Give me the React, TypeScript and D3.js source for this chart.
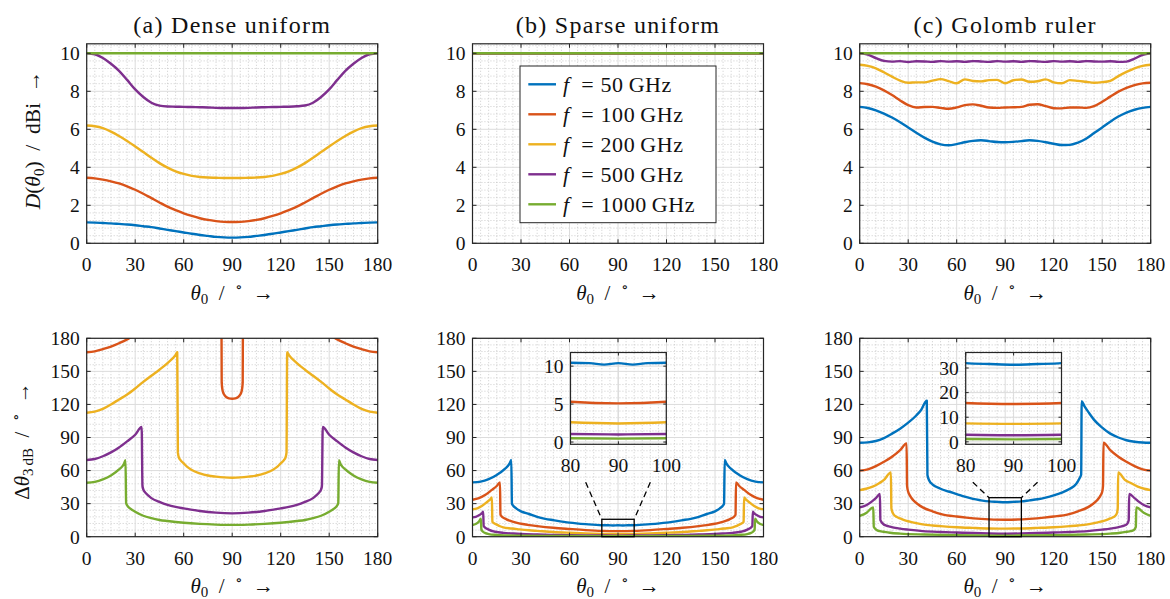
import React from "react";
import * as d3 from "d3";

type Pt = [number, number];

// ---------- categories / labels ----------
const COLORS = ["#0072BD", "#D95319", "#EDB120", "#7E2F8E", "#77AC30"];
const FREQ_LABELS = ["50", "100", "200", "500", "1000"];
const PANEL_TITLES = ["(a) Dense uniform", "(b) Sparse uniform", "(c) Golomb ruler"];
const THETA_TICKS = [0, 30, 60, 90, 120, 150, 180];
const D_TICKS = [0, 2, 4, 6, 8, 10];
const BW_TICKS = [0, 30, 60, 90, 120, 150, 180];
const INSET_X_TICKS = [80, 90, 100];
const INSET_B_TICKS = [0, 5, 10];
const INSET_C_TICKS = [0, 10, 20, 30];
const ZOOM_X = [80, 100];
const ZOOM_TOP_B = 15.8;
const ZOOM_TOP_C = 35.4;
const CONNECT_FROM: Pt[] = [[70, 49.4], [110, 49.4]];

// ---------- theta grids ----------
const THETA5 = [0, 5, 10, 15, 20, 25, 30, 35, 40, 45, 50, 55, 60, 65, 70, 75, 80, 85, 90, 95, 100, 105, 110, 115, 120, 125, 130, 135, 140, 145, 150, 155, 160, 165, 170, 175, 180];
const THETA_COARSE = [0, 30, 60, 90, 120, 150, 180];

// ---------- (a) dense uniform, directivity ----------
const denseD50 = [1.10, 1.09, 1.07, 1.05, 1.02, 0.99, 0.95, 0.90, 0.85, 0.78, 0.71, 0.64, 0.57, 0.50, 0.44, 0.39, 0.34, 0.31, 0.30, 0.31, 0.34, 0.39, 0.44, 0.50, 0.57, 0.64, 0.71, 0.78, 0.85, 0.90, 0.95, 0.99, 1.02, 1.05, 1.07, 1.09, 1.10];
const denseD100 = [3.45, 3.42, 3.35, 3.26, 3.15, 3.00, 2.82, 2.61, 2.38, 2.15, 1.93, 1.75, 1.58, 1.44, 1.32, 1.23, 1.17, 1.13, 1.12, 1.13, 1.17, 1.23, 1.32, 1.44, 1.58, 1.75, 1.93, 2.15, 2.38, 2.61, 2.82, 3.00, 3.15, 3.26, 3.35, 3.42, 3.45];
const denseD200 = [6.20, 6.16, 6.06, 5.88, 5.65, 5.39, 5.10, 4.80, 4.50, 4.22, 3.98, 3.79, 3.65, 3.55, 3.49, 3.46, 3.45, 3.44, 3.44, 3.44, 3.45, 3.46, 3.49, 3.55, 3.65, 3.79, 3.98, 4.22, 4.50, 4.80, 5.10, 5.39, 5.65, 5.88, 6.06, 6.16, 6.20];
const denseD500 = [10.0, 9.95, 9.75, 9.45, 9.08, 8.60, 8.10, 7.70, 7.40, 7.25, 7.20, 7.19, 7.18, 7.17, 7.16, 7.15, 7.13, 7.12, 7.12, 7.12, 7.13, 7.15, 7.16, 7.17, 7.18, 7.19, 7.21, 7.25, 7.40, 7.70, 8.10, 8.60, 9.08, 9.45, 9.75, 9.95, 10.0];
const denseD1000 = [10, 10, 10, 10, 10, 10, 10];

// ---------- (b) sparse uniform, directivity ----------
const sparseD50 = [10, 10, 10, 10, 10, 10, 10];
const sparseD100 = [10, 10, 10, 10, 10, 10, 10];
const sparseD200 = [10, 10, 10, 10, 10, 10, 10];
const sparseD500 = [10, 10, 10, 10, 10, 10, 10];
const sparseD1000 = [10, 10, 10, 10, 10, 10, 10];

// ---------- (c) Golomb ruler, directivity ----------
const golombD50 = [7.18, 7.12, 7.00, 6.83, 6.62, 6.37, 6.09, 5.82, 5.56, 5.35, 5.21, 5.16, 5.22, 5.32, 5.39, 5.42, 5.38, 5.33, 5.32, 5.34, 5.38, 5.42, 5.39, 5.32, 5.24, 5.17, 5.18, 5.30, 5.50, 5.80, 6.10, 6.40, 6.67, 6.88, 7.03, 7.13, 7.18];
const golombD100 = [8.43, 8.37, 8.24, 8.05, 7.80, 7.52, 7.27, 7.15, 7.17, 7.18, 7.13, 7.08, 7.15, 7.27, 7.31, 7.24, 7.15, 7.13, 7.15, 7.16, 7.18, 7.29, 7.32, 7.22, 7.11, 7.10, 7.15, 7.15, 7.13, 7.22, 7.45, 7.72, 7.98, 8.18, 8.33, 8.42, 8.45];
const golombD200 = [9.40, 9.34, 9.21, 9.00, 8.77, 8.56, 8.45, 8.47, 8.47, 8.56, 8.64, 8.54, 8.42, 8.63, 8.54, 8.52, 8.59, 8.60, 8.42, 8.58, 8.62, 8.50, 8.53, 8.63, 8.47, 8.42, 8.59, 8.55, 8.50, 8.45, 8.48, 8.55, 8.80, 9.02, 9.21, 9.34, 9.40];
const golombD500 = [10.0, 9.93, 9.75, 9.60, 9.56, 9.59, 9.54, 9.58, 9.57, 9.55, 9.59, 9.56, 9.58, 9.55, 9.59, 9.57, 9.55, 9.59, 9.56, 9.58, 9.55, 9.59, 9.57, 9.55, 9.59, 9.56, 9.58, 9.55, 9.59, 9.57, 9.56, 9.58, 9.55, 9.56, 9.72, 9.92, 10.0];
const golombD1000 = [10, 10, 10, 10, 10, 10, 10];

// ---------- (a) dense uniform, 3 dB beamwidth (NaN = off-scale gap) ----------
const denseBw100: Pt[] = [[0, 167.3], [5, 168.2], [10, 170.2], [15, 172.5], [20, 175.5], [25, 179], [27, 180.8], [50, NaN], [83.4, 181], [83.5, 140], [84, 133], [85, 129], [86.5, 126.5], [88, 125.5], [90, 125.2], [92, 125.5], [93.5, 126.5], [95, 129], [96, 133], [96.5, 140], [96.6, 181], [130, NaN], [153, 180.8], [155, 179], [160, 175.5], [165, 172.5], [170, 170.2], [175, 168.2], [180, 167.3]];
const denseBw200: Pt[] = [[0, 112.5], [5, 113.5], [10, 116], [15, 120], [20, 124.5], [25, 129], [30, 134.5], [35, 140.5], [40, 146], [45, 151.5], [50, 157.5], [55, 165], [56, 167.3], [56.4, 76.5], [57, 72], [58, 69.5], [60, 66.5], [62, 63.5], [65, 60.5], [70, 57.5], [75, 55.5], [80, 54.5], [85, 53.8], [90, 53.5], [95, 53.8], [100, 54.5], [105, 55.5], [110, 57.5], [115, 60.5], [118, 63.5], [120, 66.5], [122, 69.5], [123, 72], [123.6, 76.5], [124, 167.3], [125, 165], [130, 157.5], [135, 151.5], [140, 146], [145, 140.5], [150, 134.5], [155, 129], [160, 124.5], [165, 120], [170, 116], [175, 113.5], [180, 112.5]];
const denseBw500: Pt[] = [[0, 69.6], [5, 70.5], [10, 73], [15, 76.5], [20, 81], [25, 86.5], [30, 92.5], [34, 99.5], [34.5, 46], [35, 43], [36, 40.5], [38, 37.5], [40, 35], [45, 31.5], [50, 28.8], [55, 27], [60, 25.7], [70, 23.3], [80, 21.8], [90, 21.2], [100, 21.8], [110, 23.3], [120, 25.7], [125, 27], [130, 28.8], [135, 31.5], [140, 35], [142, 37.5], [144, 40.5], [145, 43], [145.5, 46], [146, 99.5], [150, 92.5], [155, 86.5], [160, 81], [165, 76.5], [170, 73], [175, 70.5], [180, 69.6]];
const denseBw1000: Pt[] = [[0, 49], [5, 49.8], [10, 52], [15, 55.5], [20, 61], [23, 66], [24, 69.4], [24.4, 30.5], [25, 28.5], [27, 25.5], [30, 22.7], [35, 19], [40, 16.8], [45, 15.2], [50, 14.2], [60, 12.6], [70, 11.6], [80, 11], [90, 10.7], [100, 11], [110, 11.6], [120, 12.6], [130, 14.2], [135, 15.2], [140, 16.8], [145, 19], [150, 22.7], [153, 25.5], [155, 28.5], [155.6, 30.5], [156, 69.4], [157, 66], [160, 61], [165, 55.5], [170, 52], [175, 49.8], [180, 49]];

// ---------- (b) sparse uniform, 3 dB beamwidth ----------
const sparseBw50: Pt[] = [[0, 49.3], [5, 50], [10, 52.2], [15, 56], [20, 61.5], [23, 66.5], [24, 69.6], [24.4, 30], [25, 28.5], [27, 25.7], [30, 23], [35, 20.6], [40, 18], [45, 16.2], [50, 15], [60, 12.8], [70, 11.4], [80, 10.45], [84, 10.4], [87, 10.2], [90, 10.4], [93, 10.2], [96, 10.4], [100, 10.45], [110, 11.4], [120, 12.8], [130, 15], [135, 16.2], [140, 18], [145, 20.6], [150, 23], [153, 25.7], [155, 28.5], [155.6, 30], [156, 69.6], [157, 66.5], [160, 61.5], [165, 56], [170, 52.2], [175, 50], [180, 49.3]];
const sparseBw100: Pt[] = [[0, 33.5], [4, 35], [8, 38], [12, 42.5], [15, 46], [17, 49.3], [17.3, 20], [18, 18.5], [19, 17.3], [21, 15.8], [23, 14.6], [27, 12.8], [31, 11.5], [35, 10.5], [40, 9.6], [50, 8.1], [60, 7.0], [70, 6.0], [80, 5.3], [90, 5.1], [100, 5.3], [110, 6.0], [120, 7.0], [130, 8.1], [140, 9.6], [145, 10.5], [149, 11.5], [153, 12.8], [157, 14.6], [159, 15.8], [161, 17.3], [162, 18.5], [162.7, 20], [163, 49.3], [165, 46], [168, 42.5], [172, 38], [176, 35], [180, 33.5]];
const sparseBw200: Pt[] = [[0, 24.8], [3, 25.8], [6, 28], [9, 31.5], [11, 34], [12, 35.7], [12.3, 13.6], [13, 12.5], [15, 11], [17, 9.5], [19, 8.5], [24, 7.4], [29, 6.6], [35, 5.8], [40, 5.3], [50, 4.3], [60, 3.6], [70, 3.0], [80, 2.6], [90, 2.45], [100, 2.6], [110, 3.0], [120, 3.6], [130, 4.3], [140, 5.3], [145, 5.8], [151, 6.6], [156, 7.4], [161, 8.5], [163, 9.5], [165, 11], [167, 12.5], [167.7, 13.6], [168, 35.7], [169, 34], [171, 31.5], [174, 28], [177, 25.8], [180, 24.8]];
const sparseBw500: Pt[] = [[0, 17.5], [2, 18], [4, 19.5], [6, 21.5], [6.6, 22.7], [6.9, 9.7], [8, 8], [10, 6.5], [13, 4.8], [16, 4], [19, 3.5], [25, 2.9], [30, 2.5], [40, 2], [50, 1.6], [60, 1.35], [70, 1.15], [80, 1.05], [90, 1.0], [100, 1.05], [110, 1.15], [120, 1.35], [130, 1.6], [140, 2], [150, 2.5], [155, 2.9], [161, 3.5], [164, 4], [167, 4.8], [170, 6.5], [172, 8], [173.1, 9.7], [173.4, 22.7], [174, 21.5], [176, 19.5], [178, 18], [180, 17.5]];
const sparseBw1000: Pt[] = [[0, 10.6], [2, 11.5], [4, 13.8], [5.2, 16.3], [5.5, 6.5], [6.5, 4.5], [8, 3.2], [10, 2.4], [15, 1.6], [20, 1.2], [30, 0.9], [45, 0.7], [60, 0.6], [90, 0.45], [120, 0.6], [135, 0.7], [150, 0.9], [160, 1.2], [165, 1.6], [170, 2.4], [172, 3.2], [173.5, 4.5], [174.5, 6.5], [174.8, 16.3], [176, 13.8], [178, 11.5], [180, 10.6]];

// ---------- (c) Golomb ruler, 3 dB beamwidth ----------
const golombBw50: Pt[] = [[0, 85.3], [5, 85.6], [10, 86.8], [15, 89.5], [20, 93.5], [25, 98], [30, 103.5], [35, 110], [38, 115], [41.5, 123.4], [41.9, 56], [43, 51], [45, 47.5], [50, 43.5], [55, 41], [60, 38.7], [65, 36.3], [70, 34.3], [75, 33], [80, 32], [85, 31.6], [90, 31.3], [95, 31.6], [100, 32], [105, 33], [110, 34], [115, 35.5], [120, 37.5], [125, 40], [130, 43.5], [134, 48], [136, 53], [137, 56.5], [137.3, 123], [139, 118.5], [142, 112], [145, 106], [150, 99], [155, 93.5], [160, 90], [165, 87.5], [170, 86.2], [175, 85.5], [180, 85.3]];
const golombBw100: Pt[] = [[0, 59.9], [5, 61], [10, 64], [15, 68], [20, 72.5], [25, 78.5], [29, 84.7], [29.3, 46], [30, 40.8], [31, 37.5], [33, 33.3], [36, 29.5], [39, 26.6], [45, 23], [51, 20.3], [60, 18.3], [66, 17.3], [75, 16.2], [90, 15.4], [105, 16.2], [114, 17.3], [120, 18.3], [129, 20.3], [135, 23], [141, 26.6], [144, 29.5], [147, 33.3], [149, 37.5], [150, 40.8], [150.5, 46], [150.8, 85.3], [155, 78.5], [160, 72.5], [165, 68], [170, 64], [175, 61], [180, 59.9]];
const golombBw200: Pt[] = [[0, 42.3], [4, 43.5], [8, 45.4], [12, 48.5], [15, 51.5], [19.3, 58.4], [19.6, 25.7], [20.8, 20.6], [23, 17.8], [25, 16.6], [28, 14.8], [31, 13.6], [35, 12.3], [39, 11.2], [45, 10.2], [50, 9.6], [60, 8.6], [70, 8], [80, 7.5], [90, 7.3], [100, 7.5], [110, 8], [120, 8.6], [130, 9.6], [135, 10.2], [141, 11.2], [145, 12.3], [149, 13.6], [152, 14.8], [155, 16.6], [157, 17.8], [158.9, 20.6], [159.6, 25.7], [159.9, 58.4], [164, 51.5], [168, 48.5], [172, 45.4], [176, 43.5], [180, 42.3]];
const golombBw500: Pt[] = [[0, 26.6], [4, 28.5], [7.4, 31.8], [10, 35], [12.5, 38.7], [12.8, 15], [14.6, 11.5], [16.5, 10], [18.7, 9.1], [22, 8], [25, 7.3], [30, 6.4], [39, 5.1], [50, 4.3], [60, 3.8], [70, 3.3], [80, 2.9], [90, 2.7], [100, 2.9], [110, 3.3], [120, 3.8], [130, 4.3], [141, 5.1], [150, 6.4], [155, 7.3], [158, 8], [161.3, 9.1], [163.5, 10], [165.4, 11.5], [166.4, 15], [166.7, 38.7], [170, 35], [172.6, 31.8], [176, 28.5], [180, 26.6]];
const golombBw1000: Pt[] = [[0, 18.8], [4.3, 21.8], [8.4, 26.6], [8.7, 9], [10.5, 6], [12.5, 5], [14.6, 4.5], [18.7, 3.6], [25, 2.8], [40, 2], [60, 1.4], [90, 1.0], [120, 1.4], [140, 2], [155, 2.8], [161.3, 3.6], [165.4, 4.5], [167.5, 5], [169.5, 6], [170.8, 9], [171.1, 26.6], [175.7, 21.8], [180, 18.8]];

// ---------- assemble ----------
const zip = (xs: number[], ys: number[]): Pt[] => xs.map((x, i) => [x, ys[i]] as Pt);
const TOP_SERIES: Pt[][][] = [
  [zip(THETA5, denseD50), zip(THETA5, denseD100), zip(THETA5, denseD200), zip(THETA5, denseD500), zip(THETA_COARSE, denseD1000)],
  [zip(THETA_COARSE, sparseD50), zip(THETA_COARSE, sparseD100), zip(THETA_COARSE, sparseD200), zip(THETA_COARSE, sparseD500), zip(THETA_COARSE, sparseD1000)],
  [zip(THETA5, golombD50), zip(THETA5, golombD100), zip(THETA5, golombD200), zip(THETA5, golombD500), zip(THETA_COARSE, golombD1000)],
];
const BOTTOM_SERIES: (Pt[] | null)[][] = [
  [null, denseBw100, denseBw200, denseBw500, denseBw1000],
  [sparseBw50, sparseBw100, sparseBw200, sparseBw500, sparseBw1000],
  [golombBw50, golombBw100, golombBw200, golombBw500, golombBw1000],
];

// ---------- layout ----------
const FONT = "'Liberation Serif', 'DejaVu Serif', serif";
const PANEL_X = [86.7, 472.5, 859.7];
const PW = 291;
const TOP_Y = [43.8, 243.3];
const BOT_Y = [338.3, 536.7];
const INSETS = [
  null,
  { x: 570.5, y: 352.5, w: 95.8, h: 91.8, yDom: [-0.3, 11.8], ticks: INSET_B_TICKS, zoomTop: ZOOM_TOP_B },
  { x: 965.7, y: 352.5, w: 95.8, h: 91.8, yDom: [-1, 36.3], ticks: INSET_C_TICKS, zoomTop: ZOOM_TOP_C },
];
const TICK_FS = 19.5;
const AX = "#262626";
const EN = "\u2002";
const MID = "\u2005";

type AxesProps = {
  id: string;
  left: number;
  top: number;
  width: number;
  height: number;
  xDom: [number, number];
  yDom: [number, number];
  xTicks: number[];
  yTicks: number[];
  xMinor: number;
  yMinor: number;
  series: (Pt[] | null)[];
  minorGrid?: boolean;
  tickLen?: number;
};

function Axes(p: AxesProps) {
  const x = d3.scaleLinear().domain(p.xDom).range([p.left, p.left + p.width]);
  const y = d3.scaleLinear().domain(p.yDom).range([p.top + p.height, p.top]);
  const line = d3
    .line<Pt>()
    .defined((d) => !isNaN(d[1]))
    .x((d) => x(d[0]))
    .y((d) => y(d[1]))
    .curve(d3.curveMonotoneX);
  const xm = p.minorGrid === false ? [] : d3.range(p.xDom[0], p.xDom[1] + 1e-9, p.xMinor).filter((v) => !p.xTicks.some((t) => Math.abs(t - v) < 1e-6));
  const ymStart = Math.ceil(p.yDom[0] / p.yMinor) * p.yMinor;
  const ym = p.minorGrid === false ? [] : d3.range(ymStart, p.yDom[1] + 1e-9, p.yMinor).filter((v) => !p.yTicks.some((t) => Math.abs(t - v) < 1e-6));
  const tl = p.tickLen ?? 4;
  const L = p.left, R = p.left + p.width, T = p.top, B = p.top + p.height;
  return (
    <g>
      <defs>
        <clipPath id={p.id}>
          <rect x={L} y={T} width={p.width} height={p.height} />
        </clipPath>
      </defs>
      {xm.map((v) => (
        <line key={"xm" + v} x1={x(v)} x2={x(v)} y1={T} y2={B} stroke="#b9b9b9" strokeWidth={0.8} strokeDasharray="0.9 2.1" />
      ))}
      {ym.map((v) => (
        <line key={"ym" + v} x1={L} x2={R} y1={y(v)} y2={y(v)} stroke="#b9b9b9" strokeWidth={0.8} strokeDasharray="0.9 2.1" />
      ))}
      {p.xTicks.map((v) => (
        <line key={"xg" + v} x1={x(v)} x2={x(v)} y1={T} y2={B} stroke="#dcdcdc" strokeWidth={1} />
      ))}
      {p.yTicks.map((v) => (
        <line key={"yg" + v} x1={L} x2={R} y1={y(v)} y2={y(v)} stroke="#dcdcdc" strokeWidth={1} />
      ))}
      <g clipPath={`url(#${p.id})`}>
        {p.series.map((s, i) =>
          s ? (
            <path key={i} d={line(s) || ""} fill="none" stroke={COLORS[i]} strokeWidth={2.4} strokeLinejoin="round" strokeLinecap="round" />
          ) : null
        )}
      </g>
      <rect x={L} y={T} width={p.width} height={p.height} fill="none" stroke={AX} strokeWidth={1.2} />
      {p.xTicks.map((v) => (
        <g key={"xt" + v}>
          <line x1={x(v)} x2={x(v)} y1={B} y2={B - tl} stroke={AX} strokeWidth={1} />
          <line x1={x(v)} x2={x(v)} y1={T} y2={T + tl} stroke={AX} strokeWidth={1} />
        </g>
      ))}
      {p.yTicks.map((v) => (
        <g key={"yt" + v}>
          <line x1={L} x2={L + tl} y1={y(v)} y2={y(v)} stroke={AX} strokeWidth={1} />
          <line x1={R} x2={R - tl} y1={y(v)} y2={y(v)} stroke={AX} strokeWidth={1} />
        </g>
      ))}
      {p.xTicks.map((v) => (
        <text key={"xl" + v} x={x(v)} y={B + 28} textAnchor="middle" fontSize={TICK_FS} fontFamily={FONT} fill="#111">
          {v}
        </text>
      ))}
      {p.yTicks.map((v) => (
        <text key={"yl" + v} x={L - 7} y={y(v)} dy="0.35em" textAnchor="end" fontSize={TICK_FS} fontFamily={FONT} fill="#111">
          {v}
        </text>
      ))}
    </g>
  );
}

function ThetaLabel({ cx, y }: { cx: number; y: number }) {
  return (
    <text x={cx} y={y} textAnchor="middle" fontSize={21} fontFamily={FONT} fill="#111">
      <tspan fontStyle="italic">θ</tspan>
      <tspan fontSize={15} dy={4}>0</tspan>
      <tspan dy={-4}>{EN + "/" + EN}</tspan>
      <tspan fontSize={15} dy={-8}>∘</tspan>
      <tspan dy={8}>{EN + "→"}</tspan>
    </text>
  );
}

export default function App() {
  return (
    <div style={{ position: "absolute", left: 0, top: 0, width: 1170, height: 599, background: "#fff" }}>
      <svg width={1170} height={599} viewBox="0 0 1170 599" style={{ display: "block" }}>
        <rect x={0} y={0} width={1170} height={599} fill="#fff" />
        {PANEL_X.map((px, k) => (
          <g key={"p" + k}>
            <text x={px + PW / 2} y={33} textAnchor="middle" fontSize={24} letterSpacing={1.3} fontFamily={FONT} fill="#111">
              {PANEL_TITLES[k]}
            </text>
            <Axes
              id={"top" + k}
              left={px}
              top={TOP_Y[0]}
              width={PW}
              height={TOP_Y[1] - TOP_Y[0]}
              xDom={[0, 180]}
              yDom={[0, 10.5]}
              xTicks={THETA_TICKS}
              yTicks={D_TICKS}
              xMinor={5}
              yMinor={0.4}
              series={TOP_SERIES[k]}
            />
            <ThetaLabel cx={px + PW / 2} y={299.5} />
            <Axes
              id={"bot" + k}
              left={px}
              top={BOT_Y[0]}
              width={PW}
              height={BOT_Y[1] - BOT_Y[0]}
              xDom={[0, 180]}
              yDom={[0, 180]}
              xTicks={THETA_TICKS}
              yTicks={BW_TICKS}
              xMinor={5}
              yMinor={6}
              series={BOTTOM_SERIES[k]}
            />
            <ThetaLabel cx={px + PW / 2} y={593} />
          </g>
        ))}

        {INSETS.map((ins, k) => {
          if (!ins) return null;
          const px = PANEL_X[k];
          const mx = d3.scaleLinear().domain([0, 180]).range([px, px + PW]);
          const my = d3.scaleLinear().domain([0, 180]).range([BOT_Y[1], BOT_Y[0]]);
          const zx0 = mx(ZOOM_X[0]), zx1 = mx(ZOOM_X[1]), zy = my(ins.zoomTop);
          return (
            <g key={"ins" + k}>
              <rect x={zx0} y={zy} width={zx1 - zx0} height={my(0) - zy} fill="none" stroke="#000" strokeWidth={1.3} />
              <line x1={mx(CONNECT_FROM[0][0])} y1={my(CONNECT_FROM[0][1])} x2={zx0} y2={zy} stroke="#000" strokeWidth={1.3} strokeDasharray="6 4" />
              <line x1={mx(CONNECT_FROM[1][0])} y1={my(CONNECT_FROM[1][1])} x2={zx1} y2={zy} stroke="#000" strokeWidth={1.3} strokeDasharray="6 4" />
              <Axes
                id={"inset" + k}
                left={ins.x}
                top={ins.y}
                width={ins.w}
                height={ins.h}
                xDom={[ZOOM_X[0], ZOOM_X[1]]}
                yDom={ins.yDom as [number, number]}
                xTicks={INSET_X_TICKS}
                yTicks={ins.ticks}
                xMinor={2}
                yMinor={1}
                minorGrid={false}
                series={BOTTOM_SERIES[k]}
                tickLen={3}
              />
            </g>
          );
        })}

        {/* y labels */}
        <text transform="translate(40,140) rotate(-90)" textAnchor="middle" fontSize={21.5} fontFamily={FONT} fill="#111">
          <tspan fontStyle="italic">D</tspan>
          <tspan>(</tspan>
          <tspan fontStyle="italic">θ</tspan>
          <tspan fontSize={15} dy={4}>0</tspan>
          <tspan dy={-4}>{")" + EN + "/" + EN + "dBi" + EN + "→"}</tspan>
        </text>
        <text transform="translate(29,441) rotate(-90)" textAnchor="middle" fontSize={21} fontFamily={FONT} fill="#111">
          <tspan>Δ</tspan>
          <tspan fontStyle="italic">θ</tspan>
          <tspan fontSize={15} dy={4}>{"3\u2009dB"}</tspan>
          <tspan dy={-4}>{EN + "/" + EN}</tspan>
          <tspan fontSize={15} dy={-8}>∘</tspan>
          <tspan dy={8}>{EN + "→"}</tspan>
        </text>

        {/* legend in panel (b) */}
        <g>
          <rect x={520} y={66} width={196} height={156.7} fill="#fff" stroke={AX} strokeWidth={1} />
          {FREQ_LABELS.map((f, i) => (
            <g key={"lg" + i}>
              <line x1={528.3} x2={556} y1={84.3 + 30 * i} y2={84.3 + 30 * i} stroke={COLORS[i]} strokeWidth={2.4} />
              <text x={563} y={84.3 + 30 * i} dy="0.35em" fontSize={22} letterSpacing={0.6} fontFamily={FONT} fill="#111">
                <tspan fontStyle="italic">f</tspan>
                <tspan>{EN + "=" + MID + f + "\u2009GHz"}</tspan>
              </text>
            </g>
          ))}
        </g>
      </svg>
    </div>
  );
}
